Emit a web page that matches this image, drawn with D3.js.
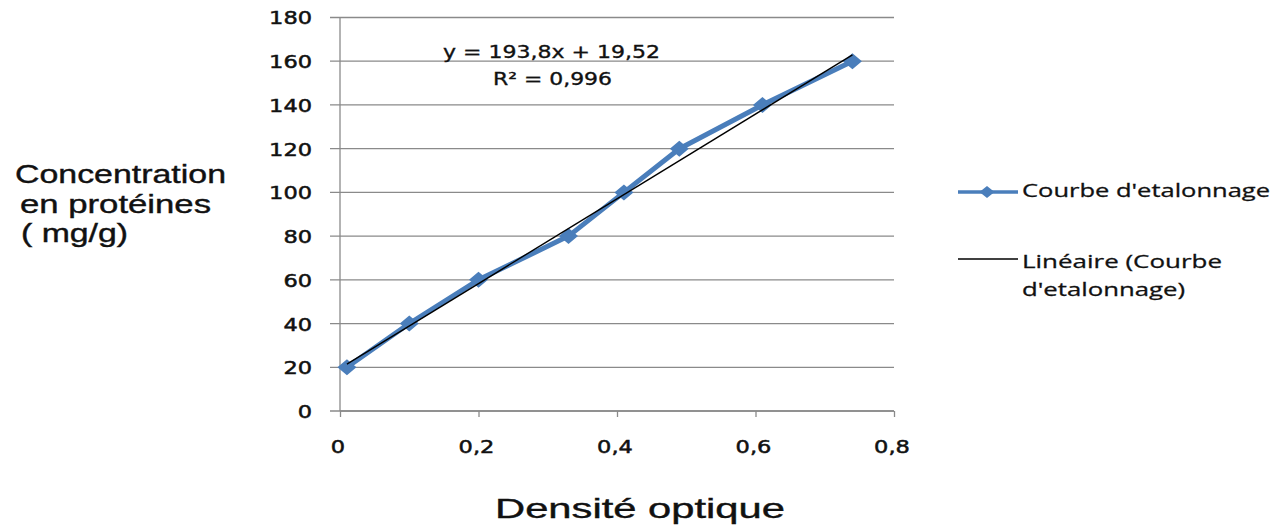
<!DOCTYPE html>
<html>
<head>
<meta charset="utf-8">
<script src="https://cdn.jsdelivr.net/npm/d3@7"></script>
<style>
  html, body { margin: 0; padding: 0; background: #fff; }
  svg { display: block; }
</style>
</head>
<body>
<svg id="chart" width="1285" height="528"></svg>
<script>
// Calibration points: optical density vs protein concentration (mg/g)
const densite = [0.01, 0.10, 0.20, 0.33, 0.41, 0.49, 0.61, 0.74];
const concentration = [20, 40, 60, 80, 100, 120, 140, 160];

// Linear trend line coefficients
const pente = 193.8;
const ordonnee = 19.52;
const equationLabel = "y = 193,8x + 19,52";
const r2Label = "R² = 0,996";

const yTicks = [0, 20, 40, 60, 80, 100, 120, 140, 160, 180];
const xTicks = [0, 0.2, 0.4, 0.6, 0.8];
const legendLabels = ["Courbe d'etalonnage", "Linéaire (Courbe", "d'etalonnage)"];
const yTitle = ["Concentration", "en protéines", "( mg/g)"];
const xTitle = "Densité optique";

const svg = d3.select("#chart");
const x = d3.scaleLinear().domain([0, 0.8]).range([340, 894]);
const y = d3.scaleLinear().domain([0, 180]).range([411, 17.5]);

const gridColor = "#8a8a8a";
const blue = "#4a7ebb";
const textColor = "#111";
const fmt = d => d3.format(".1~f")(d).replace(".", ",");

// slightly heavier text rendering
const heavy = (sel, w) => sel.attr("stroke", textColor).attr("stroke-width", w);

// horizontal gridlines, extending slightly left of the axis as tick marks
svg.append("g")
  .selectAll("line")
  .data(yTicks)
  .join("line")
  .attr("x1", 330).attr("x2", x(0.8))
  .attr("y1", d => y(d)).attr("y2", d => y(d))
  .attr("stroke", gridColor).attr("stroke-width", 1.3);

// y axis
const yAxis = svg.append("g")
  .attr("transform", `translate(${x(0)},0)`)
  .call(d3.axisLeft(y).tickValues(yTicks).tickSize(0).tickPadding(0).tickFormat(d => d));
yAxis.select(".domain").attr("stroke", gridColor).attr("stroke-width", 1.3)
  .attr("d", `M0,${y(180)}V${y(0)}`);
yAxis.selectAll("text")
  .attr("font-family", "DejaVu Sans").attr("font-size", 18).attr("fill", textColor)
  .attr("text-anchor", "end")
  .attr("x", (312 - 340) / 1.25).attr("dy", "0.36em")
  .attr("transform", "scale(1.25,1)")
  .call(heavy, 0.5);

// x axis
const xAxis = svg.append("g")
  .attr("transform", `translate(0,${y(0)})`)
  .call(d3.axisBottom(x).tickValues(xTicks).tickSize(6).tickPadding(0).tickFormat(fmt));
xAxis.select(".domain").attr("stroke", gridColor).attr("stroke-width", 1.3)
  .attr("d", `M${x(0)},0H${x(0.8)}`);
xAxis.selectAll(".tick line").attr("stroke", gridColor).attr("stroke-width", 1.3);
xAxis.selectAll("text")
  .attr("font-family", "DejaVu Sans").attr("font-size", 18).attr("fill", textColor)
  .attr("text-anchor", "middle")
  .attr("y", 42).attr("dy", 0).attr("x", -2)
  .attr("transform", "scale(1.25,1)")
  .call(heavy, 0.5);

// data series
const pts = densite.map((d, i) => [d, concentration[i]]);
const line = d3.line().x(d => x(d[0])).y(d => y(d[1]));
svg.append("path")
  .datum(pts)
  .attr("d", line)
  .attr("fill", "none").attr("stroke", blue).attr("stroke-width", 5)
  .attr("stroke-linejoin", "round");

const diamond = (w, h) => `M0,${-h / 2}L${w / 2},0L0,${h / 2}L${-w / 2},0Z`;
svg.append("g")
  .selectAll("path")
  .data(pts)
  .join("path")
  .attr("transform", d => `translate(${x(d[0])},${y(d[1])})`)
  .attr("d", diamond(19, 16))
  .attr("fill", blue);

// linear trend line over the data range
const xmin = d3.min(densite), xmax = d3.max(densite);
svg.append("path")
  .datum([xmin, xmax].map(v => [v, pente * v + ordonnee]))
  .attr("d", line)
  .attr("fill", "none").attr("stroke", "#000").attr("stroke-width", 1.4);

// equation labels
svg.append("text")
  .attr("x", 443).attr("y", 58)
  .attr("font-family", "DejaVu Sans").attr("font-size", 17.5).attr("fill", textColor)
  .attr("textLength", 217).attr("lengthAdjust", "spacingAndGlyphs")
  .call(heavy, 0.35)
  .text(equationLabel);
svg.append("text")
  .attr("x", 493).attr("y", 85)
  .attr("font-family", "DejaVu Sans").attr("font-size", 17.5).attr("fill", textColor)
  .attr("textLength", 119).attr("lengthAdjust", "spacingAndGlyphs")
  .call(heavy, 0.35)
  .text(r2Label);

// y title
const yTitleY = [183, 212.5, 242];
const yTitleX = [15, 20, 21];
const yTitleW = [211, 191, 107];
svg.append("g")
  .selectAll("text")
  .data(yTitle)
  .join("text")
  .attr("x", (d, i) => yTitleX[i]).attr("y", (d, i) => yTitleY[i])
  .attr("font-family", "Liberation Sans").attr("font-size", 26).attr("fill", textColor)
  .attr("textLength", (d, i) => yTitleW[i]).attr("lengthAdjust", "spacingAndGlyphs")
  .call(heavy, 0.4)
  .text(d => d);

// x title
svg.append("text")
  .attr("x", 495).attr("y", 518)
  .attr("font-family", "Liberation Sans").attr("font-size", 28).attr("fill", textColor)
  .attr("textLength", 290).attr("lengthAdjust", "spacingAndGlyphs")
  .call(heavy, 0.4)
  .text(xTitle);

// legend
const legend = svg.append("g");
legend.append("line")
  .attr("x1", 958).attr("x2", 1018).attr("y1", 192).attr("y2", 192)
  .attr("stroke", blue).attr("stroke-width", 3.5);
legend.append("path")
  .attr("transform", "translate(987,192)")
  .attr("d", diamond(15, 12))
  .attr("fill", blue);
legend.append("line")
  .attr("x1", 958).attr("x2", 1018).attr("y1", 259).attr("y2", 259)
  .attr("stroke", "#000").attr("stroke-width", 1.4);

const legY = [197, 268, 296];
const legW = [248, 200, 163];
legend.selectAll("text")
  .data(legendLabels)
  .join("text")
  .attr("x", 1022).attr("y", (d, i) => legY[i])
  .attr("font-family", "Open Sans").attr("font-size", 19).attr("fill", textColor)
  .attr("textLength", (d, i) => legW[i]).attr("lengthAdjust", "spacingAndGlyphs")
  .call(heavy, 0.3)
  .text(d => d);
</script>
</body>
</html>
